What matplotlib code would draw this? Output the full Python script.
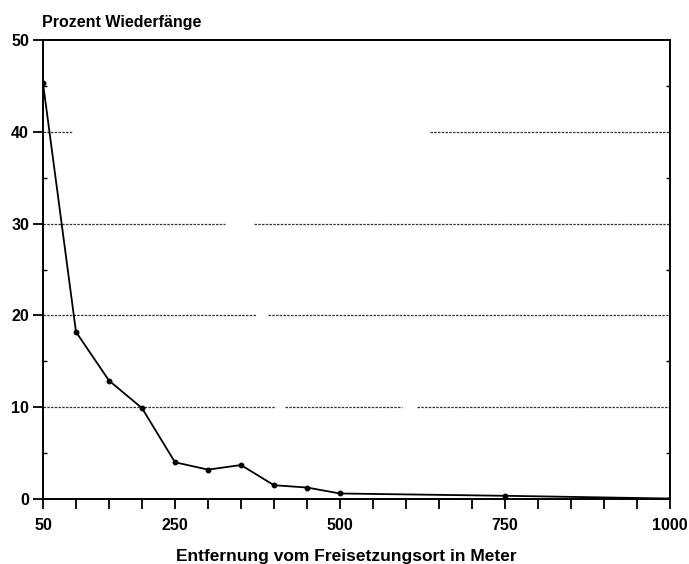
import matplotlib
matplotlib.use('Agg')
import matplotlib.pyplot as plt
from matplotlib.ticker import MultipleLocator, FixedLocator

plt.rcParams['font.family'] = ['Liberation Sans', 'DejaVu Sans']

# Entfernung (m) und Prozent Wiederfaenge
distance = [50, 100, 150, 200, 250, 300, 350, 400, 450, 500, 750, 1000]
recapture = [45.3, 18.2, 12.9, 9.9, 4.0, 3.2, 3.7, 1.5, 1.25, 0.6, 0.35, 0.05]

x_labels = [50, 250, 500, 750, 1000]
y_ticks = [0, 10, 20, 30, 40, 50]

# visible pieces of the (scanned) grid lines
grid_pieces = {
    10: [(50, 402), (417, 594), (617, 1000)],
    20: [(50, 373), (391, 1000)],
    30: [(50, 326), (370, 1000)],
    40: [(50, 94), (636, 1000)],
}

fig = plt.figure(figsize=(6.89, 5.64), dpi=100)
ax = fig.add_axes([43 / 689, 1 - 499 / 564, 627 / 689, 459 / 564])

for yv, pieces in grid_pieces.items():
    for x0, x1 in pieces:
        ax.plot([x0, x1], [yv, yv], color='0.2', lw=0.9, ls=(0, (2, 1)), zorder=1)

ax.plot(distance, recapture, color='black', lw=1.3, marker='o', ms=3.2, zorder=3)

ax.set_xlim(50, 1000)
ax.set_ylim(0, 50)
ax.xaxis.set_major_locator(FixedLocator(x_labels))
ax.xaxis.set_minor_locator(MultipleLocator(50))
ax.yaxis.set_major_locator(FixedLocator(y_ticks))
ax.yaxis.set_minor_locator(MultipleLocator(5))

ax.tick_params(axis='x', which='both', direction='out', length=7, width=1.3, pad=7)
ax.tick_params(axis='y', which='major', direction='out', length=7, width=1.3, pad=3)
ax.tick_params(axis='y', which='minor', direction='in', length=3, width=1.0, right=True)

for lab in ax.get_xticklabels() + ax.get_yticklabels():
    lab.set_fontweight('bold')
    lab.set_fontsize(11.5)

for sp in ax.spines.values():
    sp.set_linewidth(1.4)

fig.text(42 / 689, 1 - 22 / 564, 'Prozent Wiederfänge', fontsize=11.5,
         fontweight='bold', ha='left', va='center')
fig.text(346 / 689, 1 - 556 / 564, 'Entfernung vom Freisetzungsort in Meter',
         fontsize=12.5, fontweight='bold', ha='center', va='center')

fig.savefig('out.png', dpi=100)
